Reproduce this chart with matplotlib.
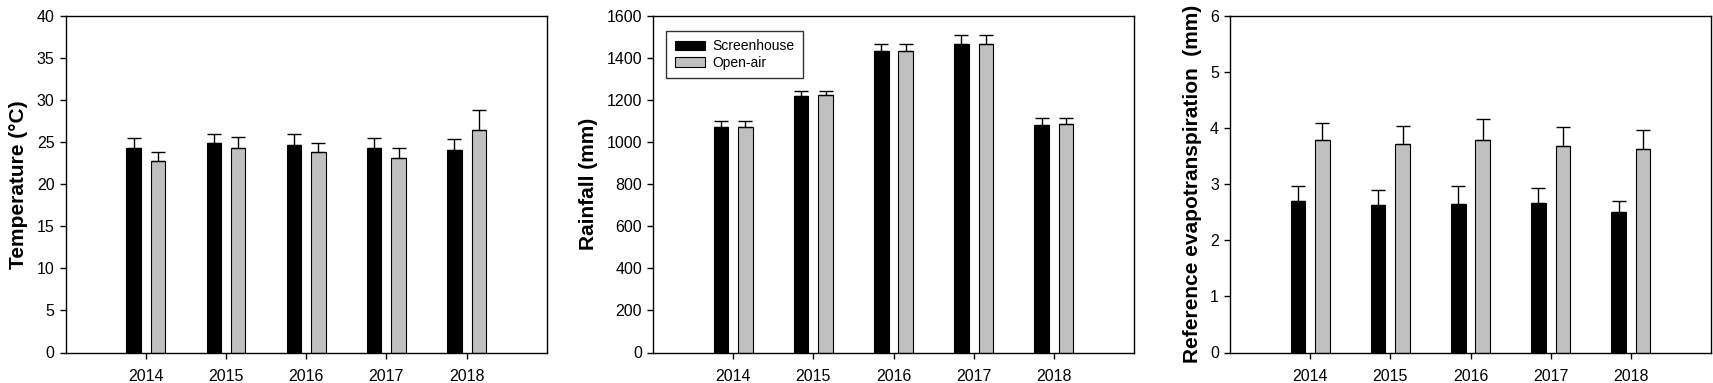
import matplotlib
matplotlib.use("Agg")
import matplotlib.pyplot as plt
import numpy as np

plt.rcParams['font.family'] = ['Liberation Sans', 'DejaVu Sans']

years = ["2014", "2015", "2016", "2017", "2018"]
series_names = ["Screenhouse", "Open-air"]

temp_screen = [24.3, 24.85, 24.65, 24.33, 24.06]
temp_screen_err = [1.14, 1.15, 1.30, 1.19, 1.26]
temp_open = [22.8, 24.3, 23.86, 23.15, 26.5]
temp_open_err = [1.06, 1.26, 1.07, 1.18, 2.38]

rain_screen = [1074, 1221, 1433, 1469, 1081]
rain_screen_err = [29, 21, 32, 41, 34]
rain_open = [1073, 1224, 1435, 1469, 1085]
rain_open_err = [27, 21, 30, 41, 32]

et_screen = [2.71, 2.63, 2.65, 2.67, 2.51]
et_screen_err = [0.26, 0.27, 0.32, 0.26, 0.20]
et_open = [3.79, 3.71, 3.79, 3.69, 3.63]
et_open_err = [0.31, 0.32, 0.38, 0.33, 0.34]

panels = [
    dict(s=temp_screen, se=temp_screen_err, o=temp_open, oe=temp_open_err,
         ylim=(0, 40), yticks=np.arange(0, 41, 5), ylabel="Temperature (°C)", legend=False),
    dict(s=rain_screen, se=rain_screen_err, o=rain_open, oe=rain_open_err,
         ylim=(0, 1600), yticks=np.arange(0, 1601, 200), ylabel="Rainfall (mm)", legend=True),
    dict(s=et_screen, se=et_screen_err, o=et_open, oe=et_open_err,
         ylim=(0, 6), yticks=np.arange(0, 7, 1), ylabel="Reference evapotranspiration  (mm)", legend=False),
]

W, H = 1713, 383
fig = plt.figure(figsize=(W / 100, H / 100), dpi=100)
lefts = [65.7, 653, 1230]
ax_w = 481
ax_top, ax_bot = 16, 352.5

gray = "#c0c0c0"
x = np.arange(len(years))
bw = 0.18
off = 0.152

for left, p in zip(lefts, panels):
    ax = fig.add_axes([left / W, (H - ax_bot) / H, ax_w / W, (ax_bot - ax_top) / H])
    zeros = [0] * len(years)
    ax.bar(x - off, p['s'], bw, color='black', edgecolor='black', linewidth=0.8,
           label=series_names[0], zorder=2)
    ax.bar(x + off, p['o'], bw, color=gray, edgecolor='black', linewidth=0.8,
           label=series_names[1], zorder=2)
    ax.errorbar(x - off, p['s'], yerr=[zeros, p['se']], fmt='none', ecolor='black',
                elinewidth=1, capsize=5, capthick=1, zorder=3)
    ax.errorbar(x + off, p['o'], yerr=[zeros, p['oe']], fmt='none', ecolor='black',
                elinewidth=1, capsize=5, capthick=1, zorder=3)
    ax.set_xlim(-1, 5)
    ax.set_ylim(*p['ylim'])
    ax.set_xticks(x)
    ax.set_xticklabels(years)
    ax.set_yticks(p['yticks'])
    ax.tick_params(axis='both', direction='out', length=4, width=1, labelsize=11.5,
                   top=False, right=False, pad=4)
    ax.tick_params(axis='x', pad=8)
    for sp in ax.spines.values():
        sp.set_linewidth(1)
    ax.set_ylabel(p['ylabel'], fontsize=15, fontweight='bold', labelpad=6)
    if p['legend']:
        leg = ax.legend(loc='upper left', bbox_to_anchor=(0.028, 0.955), borderaxespad=0,
                        fontsize=10, frameon=True, fancybox=False, edgecolor='black',
                        handlelength=2.2, handleheight=0.7, handletextpad=0.5,
                        labelspacing=0.15, borderpad=0.6)
        leg.get_frame().set_linewidth(1)

fig.savefig("out.png", dpi=100)
